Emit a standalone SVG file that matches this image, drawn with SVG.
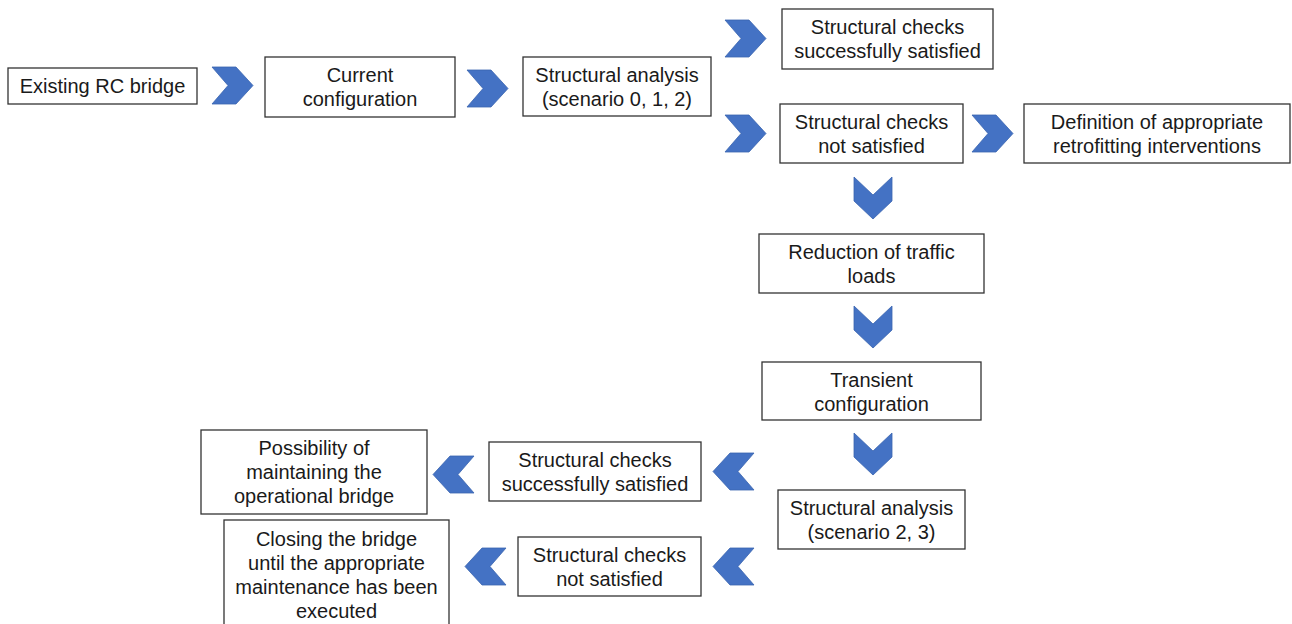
<svg xmlns="http://www.w3.org/2000/svg" width="1292" height="624" viewBox="0 0 1292 624">
<style>
.box{fill:#fff;stroke:#333;stroke-width:1.3}
.t{font-family:"Liberation Sans",Arial,sans-serif;font-size:20px;fill:#1a1a1a;text-anchor:middle;dominant-baseline:central}
.ch{fill:#4472C4;stroke:#3a64b0;stroke-width:0.8}
</style>
<defs>
<path id="cr" d="M0,0 H24 L41,18.5 L24,37 H0 L16,18.5 Z"/>
<path id="cl" d="M41,0 H17 L0,18.5 L17,37 H41 L25,18.5 Z"/>
<path id="cd" d="M0,0 L19,18 L38,0 V24 L19,42 L0,24 Z"/>
</defs>
<rect width="1292" height="624" fill="#fff"/>
<g id="connectors">
<use href="#cr" class="ch" x="212" y="67"/>
<use href="#cr" class="ch" x="467" y="70"/>
<use href="#cr" class="ch" x="725" y="20"/>
<use href="#cr" class="ch" x="725" y="115"/>
<use href="#cr" class="ch" x="972" y="115"/>
<use href="#cd" class="ch" x="854" y="177"/>
<use href="#cd" class="ch" x="854" y="306"/>
<use href="#cd" class="ch" x="854" y="433"/>
<use href="#cl" class="ch" x="433" y="456"/>
<use href="#cl" class="ch" x="713" y="453"/>
<use href="#cl" class="ch" x="465" y="548"/>
<use href="#cl" class="ch" x="713" y="548"/>
</g>
<g id="n-existing"><rect class="box" x="8" y="68" width="189" height="36"/><text class="t" x="102.5" y="86">Existing RC bridge</text></g>
<g id="n-current"><rect class="box" x="265" y="57" width="190" height="60"/><text class="t" x="360" y="75">Current</text><text class="t" x="360" y="99">configuration</text></g>
<g id="n-analysis1"><rect class="box" x="523" y="57" width="188" height="59"/><text class="t" x="617" y="75">Structural analysis</text><text class="t" x="617" y="99">(scenario 0, 1, 2)</text></g>
<g id="n-ok1"><rect class="box" x="782" y="9" width="211" height="60"/><text class="t" x="887.5" y="27">Structural checks</text><text class="t" x="887.5" y="51">successfully satisfied</text></g>
<g id="n-fail1"><rect class="box" x="780" y="104" width="183" height="59"/><text class="t" x="871.5" y="122">Structural checks</text><text class="t" x="871.5" y="146">not satisfied</text></g>
<g id="n-retrofit"><rect class="box" x="1024" y="104" width="266" height="59"/><text class="t" x="1157" y="122">Definition of appropriate</text><text class="t" x="1157" y="146">retrofitting interventions</text></g>
<g id="n-reduction"><rect class="box" x="759" y="234" width="225" height="59"/><text class="t" x="871.5" y="252">Reduction of traffic</text><text class="t" x="871.5" y="276">loads</text></g>
<g id="n-transient"><rect class="box" x="762" y="362" width="219" height="58"/><text class="t" x="871.5" y="380">Transient</text><text class="t" x="871.5" y="404">configuration</text></g>
<g id="n-analysis2"><rect class="box" x="778" y="490" width="187" height="59"/><text class="t" x="871.5" y="508">Structural analysis</text><text class="t" x="871.5" y="532">(scenario 2, 3)</text></g>
<g id="n-ok2"><rect class="box" x="489" y="442" width="212" height="59"/><text class="t" x="595" y="460">Structural checks</text><text class="t" x="595" y="484">successfully satisfied</text></g>
<g id="n-fail2"><rect class="box" x="518" y="537" width="183" height="59"/><text class="t" x="609.5" y="555">Structural checks</text><text class="t" x="609.5" y="579">not satisfied</text></g>
<g id="n-maintain"><rect class="box" x="201" y="430" width="226" height="84"/><text class="t" x="314" y="448">Possibility of</text><text class="t" x="314" y="472">maintaining the</text><text class="t" x="314" y="496">operational bridge</text></g>
<g id="n-closing"><rect class="box" x="224" y="520" width="225" height="110"/><text class="t" x="336.5" y="539">Closing the bridge</text><text class="t" x="336.5" y="563">until the appropriate</text><text class="t" x="336.5" y="587">maintenance has been</text><text class="t" x="336.5" y="611">executed</text></g>
</svg>
